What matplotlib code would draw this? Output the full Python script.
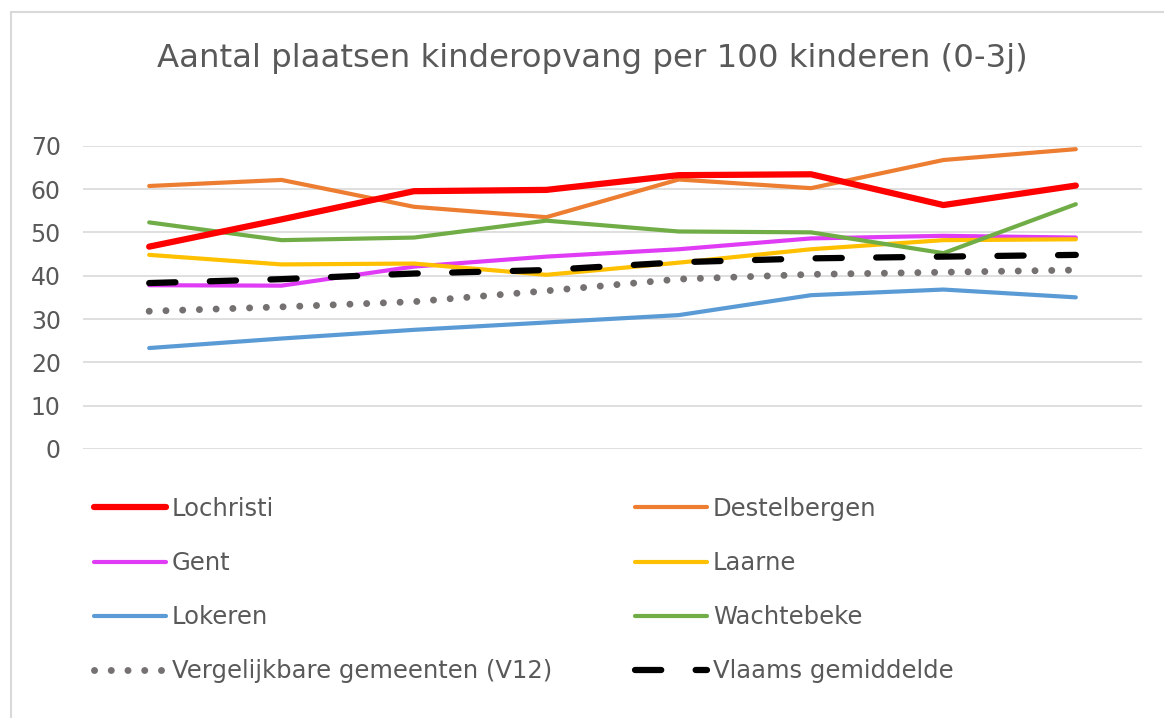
import numpy as np
import matplotlib.pyplot as plt
from matplotlib.patches import Rectangle

plt.rcParams['font.family'] = ['DejaVu Sans']

# 8 jaren, geen labels op de x-as in het origineel
jaren = list(range(8))

lochristi = [46.7, 53.0, 59.5, 59.8, 63.2, 63.4, 56.3, 60.8]
destelbergen = [60.7, 62.1, 55.9, 53.5, 62.2, 60.2, 66.7, 69.2]
gent = [37.8, 37.7, 42.1, 44.4, 46.1, 48.6, 49.2, 48.8]
laarne = [44.8, 42.6, 42.8, 40.2, 43.0, 46.1, 48.2, 48.4]
lokeren = [23.3, 25.5, 27.5, 29.2, 30.9, 35.5, 36.8, 35.0]
wachtebeke = [52.3, 48.2, 48.8, 52.7, 50.2, 50.0, 45.2, 56.5]
v12 = [31.8, 32.8, 34.0, 36.5, 39.2, 40.3, 40.8, 41.3]
vlaams = [38.3, 39.2, 40.5, 41.3, 43.1, 44.0, 44.4, 44.8]

W, H = 1164, 718
txt = '#595959'

fig = plt.figure(figsize=(W / 100, H / 100), dpi=100)
# grijze rand van het grafiekgebied (rechts/onder buiten beeld)
fig.patches.append(Rectangle((11 / W, -0.1), 1.2, 1 - 12 / H + 0.1,
                             transform=fig.transFigure, fill=False,
                             edgecolor='#d9d9d9', lw=1.5))

ax = fig.add_axes([83 / W, 1 - 449 / H, (1142 - 83) / W, (449 - 145.7) / H])

lines = {}
lines['Lochristi'], = ax.plot(jaren, lochristi, color='#FF0000', lw=4.5,
                              solid_capstyle='round', zorder=5)
lines['Destelbergen'], = ax.plot(jaren, destelbergen, color='#ED7D31', lw=3,
                                 solid_capstyle='round')
lines['Gent'], = ax.plot(jaren, gent, color='#E03CF5', lw=3, solid_capstyle='round')
lines['Laarne'], = ax.plot(jaren, laarne, color='#FFC000', lw=3, solid_capstyle='round')
lines['Lokeren'], = ax.plot(jaren, lokeren, color='#5B9BD5', lw=3, solid_capstyle='round')
lines['Wachtebeke'], = ax.plot(jaren, wachtebeke, color='#70AD47', lw=3,
                               solid_capstyle='round')
lines['Vergelijkbare gemeenten (V12)'], = ax.plot(
    jaren, v12, color='#767171', lw=5, linestyle=(0, (0.01, 2.4)),
    dash_capstyle='round')
lines['Vlaams gemiddelde'], = ax.plot(
    jaren, vlaams, color='black', lw=4.5, linestyle=(0, (4.2, 5.5)),
    dash_capstyle='round', zorder=6)

ax.set_xlim(-0.5, 7.5)
ax.set_ylim(0, 70)
ax.set_yticks(np.arange(0, 71, 10))
ax.set_xticks([])
ax.grid(axis='y', color='#d9d9d9', lw=1.2)
ax.set_axisbelow(True)
for s in ax.spines.values():
    s.set_visible(False)
ax.tick_params(axis='y', length=0, pad=16, labelsize=17, labelcolor=txt)

fig.text(592 / W, 1 - 58 / H, 'Aantal plaatsen kinderopvang per 100 kinderen (0-3j)',
         ha='center', va='center', fontsize=23.3, color=txt)

kol1 = ['Lochristi', 'Gent', 'Lokeren', 'Vergelijkbare gemeenten (V12)']
kol2 = ['Destelbergen', 'Laarne', 'Wachtebeke', 'Vlaams gemiddelde']
for namen, x0 in [(kol1, 94), (kol2, 635)]:
    leg = fig.legend([lines[n] for n in namen], namen, loc='upper left',
                     bbox_to_anchor=(x0 / W, 1 - 497 / H), frameon=False,
                     fontsize=17.5, handlelength=2.95, handletextpad=0.25,
                     labelspacing=1.24, borderpad=0, borderaxespad=0)
    for t in leg.get_texts():
        t.set_color(txt)

fig.savefig('out.png', dpi=100)
